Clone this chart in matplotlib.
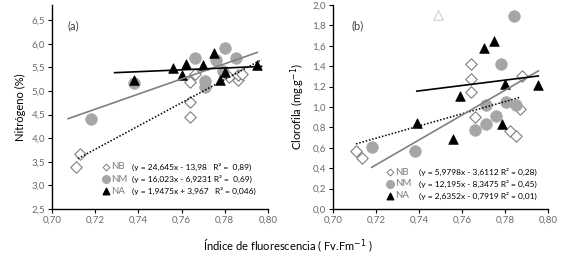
import matplotlib
matplotlib.use("Agg")
import matplotlib.pyplot as plt
import numpy as np

plt.rcParams["font.family"] = ["Lato", "DejaVu Sans"]

# panel (a): nitrogen
a_nb_x = [0.711, 0.713, 0.764, 0.764, 0.764, 0.766, 0.782, 0.786, 0.786, 0.788]
a_nb_y = [3.40, 3.66, 5.19, 4.77, 4.44, 5.36, 5.30, 5.23, 5.34, 5.35]
a_nm_x = [0.718, 0.738, 0.766, 0.771, 0.771, 0.776, 0.779, 0.780, 0.785]
a_nm_y = [4.40, 5.16, 5.69, 5.22, 5.08, 5.65, 5.43, 5.90, 5.69]
a_na_x = [0.738, 0.756, 0.760, 0.762, 0.770, 0.775, 0.778, 0.780, 0.795]
a_na_y = [5.23, 5.48, 5.34, 5.58, 5.55, 5.80, 5.24, 5.41, 5.56]

# panel (b): chlorophyll
b_nb_x = [0.7107, 0.7133, 0.764, 0.764, 0.764, 0.766, 0.7823, 0.7851, 0.787, 0.788]
b_nb_y = [0.567, 0.502, 1.42, 1.27, 1.145, 0.898, 0.765, 0.716, 0.98, 1.30]
b_nm_x = [0.718, 0.738, 0.766, 0.771, 0.771, 0.776, 0.778, 0.7805, 0.784, 0.785]
b_nm_y = [0.607, 0.567, 0.775, 0.838, 1.02, 0.914, 1.426, 1.052, 1.888, 1.02]
b_na_x = [0.739, 0.756, 0.759, 0.770, 0.775, 0.7785, 0.780, 0.7955]
b_na_y = [0.848, 0.69, 1.106, 1.574, 1.65, 0.838, 1.228, 1.218]
b_out_x = [0.749]
b_out_y = [1.904]

# fitted lines: slope, intercept, x start, x end
a_fits = {"NB": (24.645, -13.98, 0.712, 0.797),
          "NM": (16.023, -6.9231, 0.7075, 0.795),
          "NA": (1.9475, 3.967, 0.729, 0.797)}
b_fits = {"NB": (5.9798, -3.6112, 0.7107, 0.787),
          "NM": (12.195, -8.3475, 0.718, 0.7955),
          "NA": (2.6352, -0.7919, 0.739, 0.7955)}

a_eqs = ["(y = 24,645x - 13,98   R² =  0,89)",
         "(y = 16,023x - 6,9231 R² =  0,69)",
         "(y = 1,9475x + 3,967   R² = 0,046)"]
b_eqs = ["(y = 5,9798x - 3,6112 R² = 0,28)",
         "(y = 12,195x - 8,3475 R² = 0,45)",
         "(y = 2,6352x - 0,7919 R² = 0,01)"]
groups = ["NB", "NM", "NA"]

x_ticks = [0.70, 0.72, 0.74, 0.76, 0.78, 0.80]
a_yticks = [2.5, 3.0, 3.5, 4.0, 4.5, 5.0, 5.5, 6.0, 6.5]
b_yticks = [0.0, 0.2, 0.4, 0.6, 0.8, 1.0, 1.2, 1.4, 1.6, 1.8, 2.0]

GRAY = "#a6a6a6"
LINE_STYLE = {"NB": dict(color="black", ls=(0, (1, 1.2)), lw=1.1),
              "NM": dict(color="#808080", ls="-", lw=1.2),
              "NA": dict(color="black", ls="-", lw=1.2)}
MARK = {"NB": dict(marker="D", s=34, facecolor="white", edgecolor="#7f7f7f", linewidths=0.8),
        "NM": dict(marker="o", s=70, facecolor=GRAY, edgecolor=GRAY, linewidths=0.5),
        "NA": dict(marker="^", s=48, facecolor="black", edgecolor="black", linewidths=0.5)}
LEG_MARK = {"NB": dict(marker="D", s=12, facecolor="white", edgecolor="#7f7f7f", linewidths=0.7),
            "NM": dict(marker="o", s=30, facecolor=GRAY, edgecolor=GRAY),
            "NA": dict(marker="^", s=22, facecolor="black", edgecolor="black")}


def fmt(v, nd):
    return f"{v:.{nd}f}".replace(".", ",")


def draw(ax, data, fits, eqs, ylim, yticks, ynd, label, leg_y, leg_x):
    for g in groups:
        m, b, x0, x1 = fits[g]
        xs = np.array([x0, x1])
        ax.plot(xs, m * xs + b, zorder=3, **LINE_STYLE[g])
    for g in groups:
        x, y = data[g]
        ax.scatter(x, y, zorder=2, **MARK[g])

    ax.set_xlim(0.70, 0.80)
    ax.set_ylim(*ylim)
    ax.set_xticks(x_ticks)
    ax.set_xticklabels([fmt(v, 2) for v in x_ticks])
    ax.set_yticks(yticks)
    ax.set_yticklabels([fmt(v, ynd) for v in yticks])
    ax.tick_params(direction="out", length=3, width=0.8, labelsize=7,
                   labelcolor="#6a6a6a", pad=2)
    for s in ["top", "right"]:
        ax.spines[s].set_visible(False)
    for s in ["left", "bottom"]:
        ax.spines[s].set_linewidth(1.0)

    ax.text(0.07 if label == "(a)" else 0.085, 0.90, label, transform=ax.transAxes,
            fontsize=8, color="#404040", va="center")

    for i, g in enumerate(groups):
        yy = leg_y[i]
        ax.scatter([leg_x[0]], [yy], transform=ax.transAxes, clip_on=False,
                   zorder=4, **LEG_MARK[g])
        ax.text(leg_x[1], yy, g, transform=ax.transAxes, fontsize=7,
                color="#7f7f7f", va="center")
        ax.text(leg_x[2], yy, eqs[i], transform=ax.transAxes, fontsize=6,
                color="black", va="center")


fig = plt.figure(figsize=(5.67, 2.71), dpi=100)
ax1 = fig.add_axes([52 / 567, 1 - 209 / 271, 216 / 567, 204 / 271])
ax2 = fig.add_axes([333 / 567, 1 - 209 / 271, 215 / 567, 204 / 271])

draw(ax1, {"NB": (a_nb_x, a_nb_y), "NM": (a_nm_x, a_nm_y), "NA": (a_na_x, a_na_y)},
     a_fits, a_eqs, (2.5, 6.82), a_yticks, 1, "(a)",
     [0.206, 0.147, 0.088], [0.25, 0.275, 0.37])
draw(ax2, {"NB": (b_nb_x, b_nb_y), "NM": (b_nm_x, b_nm_y), "NA": (b_na_x, b_na_y)},
     b_fits, b_eqs, (0.0, 2.0), b_yticks, 1, "(b)",
     [0.181, 0.123, 0.064], [0.265, 0.29, 0.40])
ax2.scatter(b_out_x, b_out_y, marker="^", s=48, facecolor="white",
            edgecolor="#d0d0d0", linewidths=0.8, zorder=2)

ax1.set_ylabel("Nitrógeno (%)", fontsize=8, labelpad=4)
ax2.set_ylabel("Clorofila (mg.g$^{-1}$)", fontsize=8, labelpad=4)
fig.text(0.508, 1 - 246 / 271, "Índice de fluorescencia ( Fv.Fm$^{-1}$ )",
         ha="center", va="center", fontsize=8)

fig.savefig("out.png", dpi=100)
